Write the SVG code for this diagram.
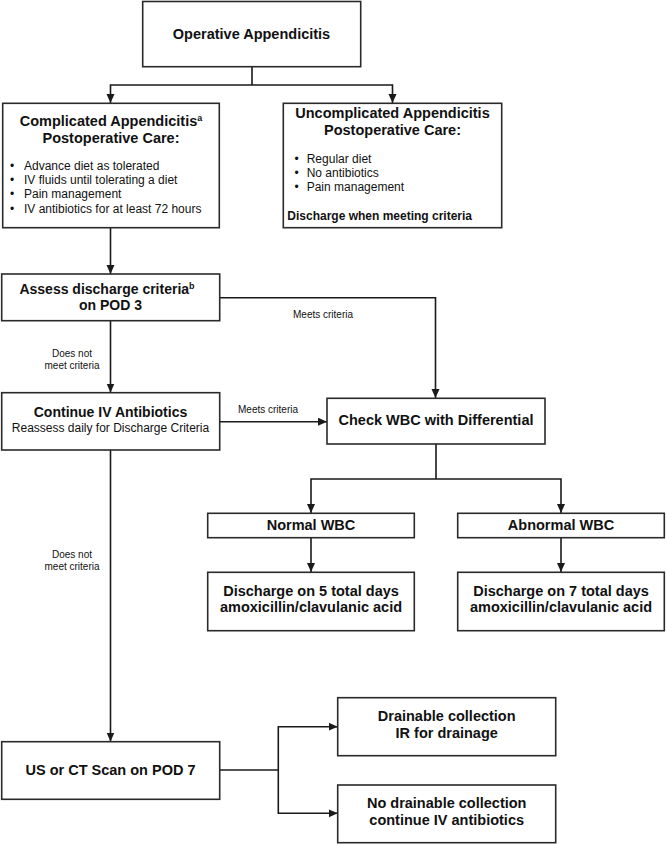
<svg xmlns="http://www.w3.org/2000/svg" width="666" height="844" viewBox="0 0 666 844">
<defs>
<style>
.box{fill:#fff;stroke:#2a2a2a;stroke-width:1.6}
.t{font-family:"Liberation Sans",Arial,sans-serif;fill:#111}
.h{font-size:14.5px;font-weight:bold;text-anchor:middle}
.h14{font-size:14px;font-weight:bold;text-anchor:middle}
.b{font-size:12px}
.bb{font-size:12px;font-weight:bold}
.lbl{font-size:10px;text-anchor:middle}
.c{text-anchor:middle}
.sup{font-size:9px}
.ln{fill:none;stroke:#1a1a1a;stroke-width:1.6}
</style>
<marker id="ah" markerUnits="userSpaceOnUse" markerWidth="10" markerHeight="9" refX="9" refY="4" orient="auto" viewBox="0 0 10 9">
<path d="M0,0 L9,4 L0,8 z" fill="#1a1a1a"/>
</marker>
</defs>
<rect width="666" height="844" fill="#fff"/>

<g id="connectors">
<path class="ln" d="M252,67 V85"/>
<path class="ln" d="M252,85 H110.5 V103" marker-end="url(#ah)"/>
<path class="ln" d="M252,85 H392.5 V103" marker-end="url(#ah)"/>
<path class="ln" d="M110.5,228 V274" marker-end="url(#ah)"/>
<path class="ln" d="M220,297.7 H435.5 V398" marker-end="url(#ah)"/>
<path class="ln" d="M110.5,321 V392.5" marker-end="url(#ah)"/>
<path class="ln" d="M220,421.7 H327" marker-end="url(#ah)"/>
<path class="ln" d="M436,444 V479"/>
<path class="ln" d="M436,479 H311 V513" marker-end="url(#ah)"/>
<path class="ln" d="M436,479 H561 V513" marker-end="url(#ah)"/>
<path class="ln" d="M311,538 V572" marker-end="url(#ah)"/>
<path class="ln" d="M561,538 V572" marker-end="url(#ah)"/>
<path class="ln" d="M110.5,450 V741.5" marker-end="url(#ah)"/>
<path class="ln" d="M220,770 H278.3"/>
<path class="ln" d="M278.3,770 V726.7 H337.7" marker-end="url(#ah)"/>
<path class="ln" d="M278.3,770 V813.3 H337.7" marker-end="url(#ah)"/>
<text class="t lbl" x="323" y="318.3">Meets criteria</text>
<text class="t lbl" x="72" y="356.7">Does not</text>
<text class="t lbl" x="72" y="368.5">meet criteria</text>
<text class="t lbl" x="268" y="413.3">Meets criteria</text>
<text class="t lbl" x="72" y="558.3">Does not</text>
<text class="t lbl" x="72" y="570">meet criteria</text>
</g>

<g id="operative">
<rect class="box" x="142.7" y="1.5" width="218" height="65.2"/>
<text class="t h" x="251.5" y="38.5">Operative Appendicitis</text>
</g>

<g id="complicated">
<rect class="box" x="2.7" y="103.3" width="216.6" height="124.4"/>
<text class="t h" x="111" y="126">Complicated Appendicitis<tspan class="sup" dy="-5">a</tspan></text>
<text class="t h" x="111" y="142.7">Postoperative Care:</text>
<text class="t b" x="10" y="170">•</text><text class="t b" x="24" y="170">Advance diet as tolerated</text>
<text class="t b" x="10" y="184.2">•</text><text class="t b" x="24" y="184.2">IV fluids until tolerating a diet</text>
<text class="t b" x="10" y="198.4">•</text><text class="t b" x="24" y="198.4">Pain management</text>
<text class="t b" x="10" y="212.6">•</text><text class="t b" x="24" y="212.6">IV antibiotics for at least 72 hours</text>
</g>

<g id="uncomplicated">
<rect class="box" x="283.3" y="103.3" width="218.4" height="124.4"/>
<text class="t h" x="392.5" y="118.3">Uncomplicated Appendicitis</text>
<text class="t h" x="392.5" y="135">Postoperative Care:</text>
<text class="t b" x="294.5" y="162.5">•</text><text class="t b" x="306.7" y="162.5">Regular diet</text>
<text class="t b" x="294.5" y="176.8">•</text><text class="t b" x="306.7" y="176.8">No antibiotics</text>
<text class="t b" x="294.5" y="191.1">•</text><text class="t b" x="306.7" y="191.1">Pain management</text>
<text class="t bb" x="287.3" y="220">Discharge when meeting criteria</text>
</g>

<g id="assess">
<rect class="box" x="1.7" y="274" width="218" height="46.7"/>
<text class="t h14" x="107" y="294">Assess discharge criteria<tspan class="sup" dy="-5">b</tspan></text>
<text class="t h14" x="110.5" y="310">on POD 3</text>
</g>

<g id="continue">
<rect class="box" x="1.7" y="392.7" width="218" height="57.3"/>
<text class="t h14" x="110.5" y="416.7">Continue IV Antibiotics</text>
<text class="t b c" x="110.5" y="431.7">Reassess daily for Discharge Criteria</text>
</g>

<g id="checkwbc">
<rect class="box" x="327" y="398.3" width="218" height="45.7"/>
<text class="t h" x="436" y="424.5">Check WBC with Differential</text>
</g>

<g id="normal">
<rect class="box" x="207.7" y="513.3" width="206.6" height="24.4"/>
<text class="t h" x="311" y="530">Normal WBC</text>
</g>

<g id="abnormal">
<rect class="box" x="457.7" y="513.3" width="206.6" height="24.4"/>
<text class="t h" x="561" y="530">Abnormal WBC</text>
</g>

<g id="discharge5">
<rect class="box" x="207.7" y="572.3" width="206.6" height="58.4"/>
<text class="t h" x="311" y="596">Discharge on 5 total days</text>
<text class="t h" x="311" y="612">amoxicillin/clavulanic acid</text>
</g>

<g id="discharge7">
<rect class="box" x="457.7" y="572.3" width="206.6" height="58.4"/>
<text class="t h" x="561" y="596">Discharge on 7 total days</text>
<text class="t h" x="561" y="612">amoxicillin/clavulanic acid</text>
</g>

<g id="usct">
<rect class="box" x="1.7" y="741.7" width="218" height="57.6"/>
<text class="t h" x="110.5" y="775">US or CT Scan on POD 7</text>
</g>

<g id="drainable">
<rect class="box" x="337.7" y="697.7" width="218" height="58"/>
<text class="t h" x="446.7" y="720.5">Drainable collection</text>
<text class="t h" x="446.7" y="737.5">IR for drainage</text>
</g>

<g id="nodrainable">
<rect class="box" x="337.7" y="785" width="218" height="57.7"/>
<text class="t h" x="446.7" y="807.5">No drainable collection</text>
<text class="t h" x="446.7" y="824.5">continue IV antibiotics</text>
</g>
</svg>
